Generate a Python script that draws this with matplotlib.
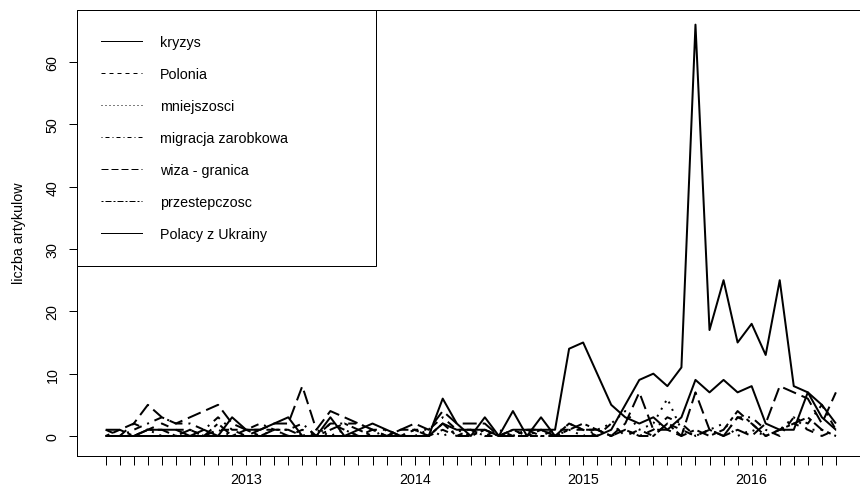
import numpy as np
import pandas as pd
import matplotlib
matplotlib.use("Agg")
import matplotlib.pyplot as plt
from matplotlib.lines import Line2D

plt.rcParams['font.family'] = ['Liberation Sans', 'DejaVu Sans']

# monthly series, March 2012 .. July 2016
months = pd.date_range("2012-03-01", periods=53, freq="MS")

kryzys = [0, 0, 0, 1, 1, 1, 0, 1, 0, 3, 1, 1, 2, 3, 0, 0, 3, 0, 1, 2, 1, 0, 0, 0, 6, 2,
          0, 3, 0, 4, 0, 3, 0, 0, 0, 0, 1, 5, 9, 10, 8, 11, 66, 17, 25, 15, 18, 13, 25, 8, 7, 5, 2]
polonia = [1, 0, 2, 1, 2, 1, 1, 0, 1, 1, 0, 1, 1, 0, 1, 0, 2, 1, 0, 1, 0, 0, 1, 0, 1, 0,
           1, 0, 0, 1, 0, 0, 1, 1, 1, 0, 2, 0, 1, 0, 2, 1, 0, 1, 0, 3, 2, 0, 1, 2, 1, 0, 1]
mniejszosci = [0, 0, 0, 1, 0, 0, 1, 0, 1, 0, 0, 0, 1, 0, 0, 1, 0, 1, 0, 0, 1, 0, 0, 1, 0, 1,
               0, 1, 0, 1, 0, 1, 0, 1, 0, 1, 2, 4, 1, 2, 6, 1, 0, 1, 2, 0, 1, 0, 1, 3, 1, 1, 0]
migracja = [0, 0, 1, 2, 3, 2, 2, 1, 3, 1, 1, 2, 1, 1, 2, 0, 2, 2, 2, 1, 1, 0, 1, 1, 3, 1,
            1, 0, 1, 0, 1, 1, 0, 2, 1, 1, 0, 1, 0, 1, 3, 2, 0, 1, 0, 3, 3, 1, 0, 3, 2, 5, 1]
wiza = [1, 1, 2, 5, 3, 2, 3, 4, 5, 2, 1, 1, 2, 2, 8, 1, 4, 3, 2, 1, 0, 1, 2, 1, 4, 2,
        2, 2, 0, 0, 0, 1, 0, 2, 1, 1, 0, 2, 7, 1, 1, 0, 7, 1, 0, 1, 0, 2, 8, 7, 6, 2, 7]
przestepczosc = [0, 1, 0, 1, 1, 0, 1, 0, 2, 0, 1, 0, 1, 1, 0, 0, 1, 2, 1, 0, 0, 1, 1, 0, 2, 0,
                 0, 1, 0, 0, 1, 0, 0, 1, 2, 1, 0, 1, 0, 0, 2, 0, 1, 0, 1, 4, 2, 0, 1, 2, 3, 1, 0]
polacy = [0, 0, 0, 0, 0, 0, 0, 0, 0, 0, 0, 0, 0, 0, 0, 0, 0, 0, 0, 0, 0, 0, 0, 0, 2, 1,
          1, 1, 0, 1, 1, 1, 1, 14, 15, 10, 5, 3, 2, 3, 1, 3, 9, 7, 9, 7, 8, 2, 1, 1, 7, 3, 1]

series_names = ["kryzys", "Polonia", "mniejszosci", "migracja zarobkowa",
                "wiza - granica", "przestepczosc", "Polacy z Ukrainy"]
series_values = [kryzys, polonia, mniejszosci, migracja, wiza, przestepczosc, polacy]
# R line types 1..6 then recycled
dash_patterns = [None, (4, 4), (1, 3), (1, 3, 4, 3), (7, 3), (2, 2, 6, 2), None]

ylabel = "liczba artykulow"
yticks = [0, 10, 20, 30, 40, 50, 60]

W, H = 860, 489
fig = plt.figure(figsize=(W / 100, H / 100), dpi=100)
# axes box in pixels (right edge runs past the figure, as in the reference)
left_px, right_px, top_px, bot_px = 76.5, 865.1, 11.0, 456.5
ax = fig.add_axes([left_px / W, (H - bot_px) / H, (right_px - left_px) / W, (bot_px - top_px) / H])

x = np.arange(len(months))
px = 100 / 72.0  # pixels per point
lw_plot = 2 / px
lw_leg = 1 / px

handles = []
for name, vals, dp in zip(series_names, series_values, dash_patterns):
    line, = ax.plot(x, vals, color="black", lw=lw_plot, solid_joinstyle="round",
                    dash_capstyle="butt", solid_capstyle="butt")
    if dp is not None:
        line.set_dashes(dp)
    h = Line2D([], [], color="black", lw=lw_leg)
    if dp is not None:
        h.set_dashes(dp)
    handles.append(h)

ax.set_xlim(-0.04 * 52, 52 + 0.04 * 52)
ax.set_ylim(-3.13, 68.35)

ax.set_xticks(x)
ax.set_xticklabels([str(d.year) if d.month == 1 else "" for d in months])
ax.set_yticks(yticks)
ax.set_yticklabels([str(v) for v in yticks])

fs = 14.2 / px
tick_len = 8.5 / px
ax.tick_params(axis="both", direction="out", length=tick_len, width=1 / px,
               color="black", labelsize=fs, pad=8.5 / px, labelcolor="#000000")
ax.tick_params(axis="y", labelrotation=90)
for lab in ax.get_yticklabels():
    lab.set_verticalalignment("center")

for s in ax.spines.values():
    s.set_linewidth(1 / px)
    s.set_color("black")

fig.text(19 / W, 1 - (top_px + bot_px) / 2 / H, ylabel, rotation=90,
         ha="center", va="center", fontsize=fs)

leg_w = (376 - left_px) / (right_px - left_px)
leg = ax.legend(handles, series_names, loc="upper left",
                bbox_to_anchor=(0, 0, leg_w, 1), mode="expand", borderaxespad=0,
                fontsize=fs, frameon=True, fancybox=False, edgecolor="black",
                framealpha=1, handlelength=41 / 14.2, handletextpad=17.5 / 14.2,
                borderpad=1.76, labelspacing=1.27)
leg.get_frame().set_linewidth(1 / px)

fig.savefig("out.png", dpi=100)
